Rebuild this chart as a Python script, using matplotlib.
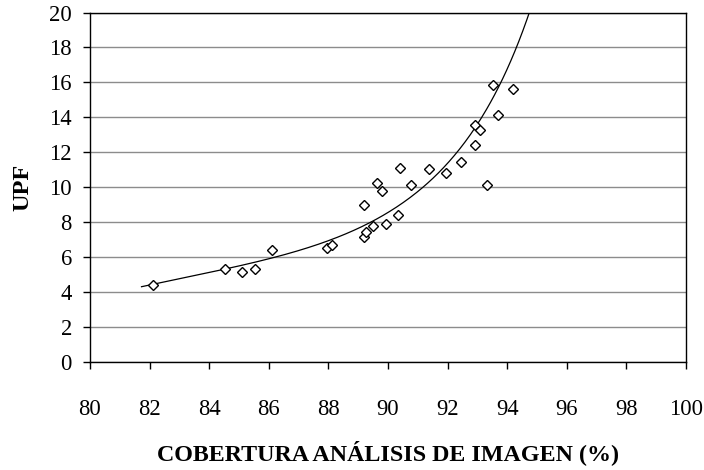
import numpy as np
import matplotlib
matplotlib.use("Agg")
import matplotlib.pyplot as plt

plt.rcParams['font.family'] = ['Liberation Serif', 'DejaVu Serif']

# scatter values
cobertura = [82.10, 84.53, 85.10, 85.55, 86.10, 87.97, 88.13, 89.18, 89.18,
             89.26, 89.51, 89.62, 89.81, 89.92, 90.32, 90.42, 90.77, 91.36,
             91.94, 92.45, 92.93, 93.09, 92.93, 93.32, 93.51, 93.69, 94.19]
upf = [4.38, 5.34, 5.13, 5.32, 6.40, 6.55, 6.69, 8.97, 7.17,
       7.44, 7.76, 10.26, 9.80, 7.90, 8.40, 11.12, 10.11, 11.03,
       10.80, 11.47, 13.54, 13.30, 12.43, 10.13, 15.87, 14.16, 15.64]

# points
trend_x = [81.73, 84.53, 86.15, 87.94, 88.39, 89.51, 91.19, 92.36, 92.75, 93.30, 93.57, 94.32, 94.74]
trend_y = [4.32, 5.28, 5.96, 6.97, 7.20, 8.07, 10.09, 12.07, 12.88, 14.50, 15.08, 18.10, 20.10]

x_ticks = list(range(80, 101, 2))
y_ticks = list(range(0, 21, 2))

fig = plt.figure(figsize=(7.04, 4.70), dpi=100)
ax = fig.add_axes([0.1278, 0.2298, 0.9744 - 0.1278, 0.9734 - 0.2298])

# smooth trend line: cubic fit in log space through the read points
coef = np.polyfit(trend_x, np.log(trend_y), 3)
xs = np.linspace(trend_x[0], 95.2, 300)
ax.plot(xs, np.exp(np.polyval(coef, xs)), color='black', lw=0.9, zorder=2)

ax.plot(cobertura, upf, linestyle='none', marker='D', ms=5, mfc='white',
        mec='black', mew=1.0, zorder=3)

ax.set_xlim(80, 100)
ax.set_ylim(0, 20)
ax.set_xticks(x_ticks)
ax.set_yticks(y_ticks)
ax.yaxis.grid(True, color='#8c8c8c', lw=1.0)
ax.set_axisbelow(True)

for s in ax.spines.values():
    s.set_color('black')
    s.set_linewidth(1.0)

ax.tick_params(axis='x', direction='out', length=5, width=1, pad=22, labelsize=16.3)
ax.tick_params(axis='y', direction='out', length=5, width=1, pad=8, labelsize=16.3)

ax.set_xlabel('COBERTURA ANÁLISIS DE IMAGEN (%)', fontsize=17.3, fontweight='bold', labelpad=14)
ax.set_ylabel('UPF', fontsize=17.5, fontweight='bold', labelpad=11.5)

fig.savefig('out.png', dpi=100)
